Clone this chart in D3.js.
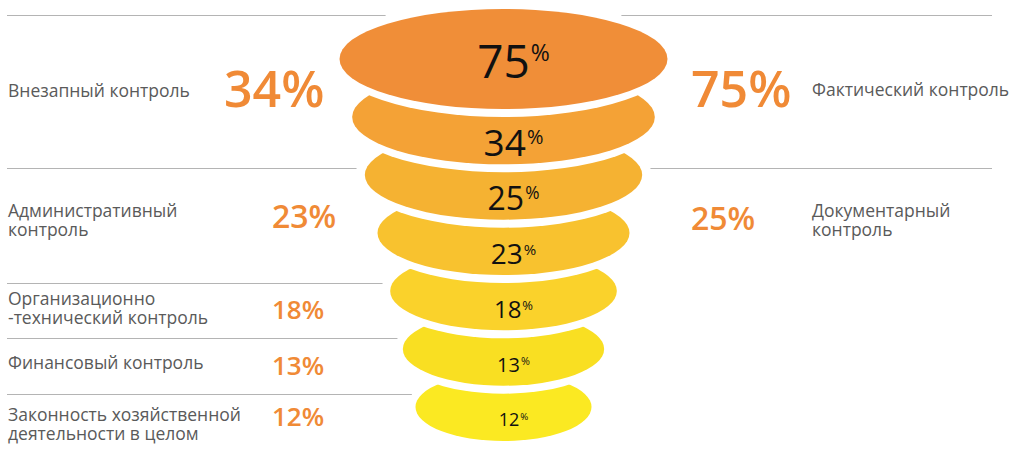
<!DOCTYPE html>
<html>
<head>
<meta charset="utf-8">
<script src="https://cdn.jsdelivr.net/npm/d3@7"></script>
<style>
  html, body { margin: 0; padding: 0; background: #fff; }
  svg text { font-family: "Open Sans", "Noto Sans", sans-serif; }
</style>
</head>
<body>
<div id="chart"></div>
<script>
// funnel levels, top to bottom
var funnelValues = [75, 34, 25, 23, 18, 13, 12];

// left column
var leftLabels = [
  ["Внезапный контроль"],
  ["Административный", "контроль"],
  ["Организационно", "-технический контроль"],
  ["Финансовый контроль"],
  ["Законность хозяйственной", "деятельности в целом"]
];
var leftValues = [34, 23, 18, 13, 12];

// right column
var rightLabels = [
  ["Фактический контроль"],
  ["Документарный", "контроль"]
];
var rightValues = [75, 25];

// ---- layout / style ----
var width = 1014, height = 451;
var cx = 503.5, gap = 8;
var levelColors = ["#f08e38", "#f4a236", "#f5b232", "#f8c22f", "#fad22b", "#f9df22", "#fbe922"];
var innerFont = [46, 37, 32, 28, 24, 20, 18];
var orange = "#f08a36", grey = "#5a5a5a", lineColor = "#b4b4b4";

var leftDividers = [15, 168, 283, 338, 394];
var rightDividers = [15, 168];
var leftLabelMid = [90.7, 220, 308.5, 363, 424];
var leftValueMid = [89, 216.6, 309.7, 365.7, 416.7];
var leftValueX = [224, 272, 272, 272, 272];
var leftValueFont = [50, 32, 26, 26, 26];
var rightLabelMid = [90, 220];
var rightValueMid = [89, 218.6];
var rightValueFont = [50, 32];

var svg = d3.select("#chart").append("svg")
  .attr("width", width)
  .attr("height", height);

var idx = d3.range(funnelValues.length);
var y = d3.scalePoint().domain(idx).range([59, 407]);
var rx = d3.scaleLinear().domain([0, idx.length - 1]).range([164, 88]);
var ry = d3.scaleLinear().domain([0, idx.length - 1]).range([50, 34]);

// half width of the funnel at a given y
function funnelHalf(yy){
  var w = 0;
  idx.forEach(function(i){
    var d = (yy - y(i)) / ry(i);
    if (Math.abs(d) < 1) w = Math.max(w, rx(i) * Math.sqrt(1 - d * d));
  });
  return w;
}

// divider lines
var lines = svg.append("g").attr("stroke", lineColor).attr("stroke-width", 1);
leftDividers.forEach(function(yy, i){
  var pad = i == 0 ? 40 : 10;
  lines.append("line")
    .attr("x1", 7).attr("x2", cx - funnelHalf(yy) - pad)
    .attr("y1", yy + 0.5).attr("y2", yy + 0.5);
});
rightDividers.forEach(function(yy, i){
  var pad = i == 0 ? 40 : 10;
  lines.append("line")
    .attr("x1", cx + funnelHalf(yy) + pad).attr("x2", 992)
    .attr("y1", yy + 0.5).attr("y2", yy + 0.5);
});

// funnel: draw bottom first, each upper level cuts the one below with a white halo
var funnel = svg.append("g");
idx.slice().reverse().forEach(function(i){
  funnel.append("ellipse")
    .attr("cx", cx).attr("cy", y(i))
    .attr("rx", rx(i) + gap).attr("ry", ry(i) + gap)
    .attr("fill", "#fff");
  funnel.append("ellipse")
    .attr("cx", cx).attr("cy", y(i))
    .attr("rx", rx(i)).attr("ry", ry(i))
    .attr("fill", levelColors[i]);
});

// numbers inside the funnel, centred in the visible part of each level
idx.forEach(function(i){
  var top = i == 0 ? y(0) - ry(0) : y(i - 1) + ry(i - 1) + gap;
  var bottom = y(i) + ry(i);
  var mid = (top + bottom) / 2 + 2.5;
  var f = innerFont[i], pf = f * (i == 0 ? 0.5 : 0.54);
  var t = svg.append("text")
    .attr("x", cx + 10)
    .attr("y", mid + f * 0.714 / 2)
    .attr("text-anchor", "middle")
    .attr("fill", "#111");
  t.append("tspan").attr("font-size", f).text(funnelValues[i]);
  t.append("tspan").attr("font-size", pf)
    .attr("dx", 1)
    .attr("dy", -(f - pf) * 0.714)
    .text("%");
});

function drawLabel(lines, x, mid){
  var t = svg.append("text")
    .attr("x", x)
    .attr("fill", grey)
    .attr("font-size", 17.5);
  var first = mid + 6 - (lines.length - 1) * 9.5;
  lines.forEach(function(s, k){
    t.append("tspan").attr("x", x).attr("y", first + k * 19).text(s);
  });
}

function drawValue(v, x, mid, f){
  svg.append("text")
    .attr("x", x)
    .attr("y", mid + f * 0.714 / 2)
    .attr("font-size", f)
    .attr("font-weight", 600)
    .attr("fill", orange)
    .text(v + "%");
}

leftLabels.forEach(function(l, i){
  drawLabel(l, 8, leftLabelMid[i]);
  drawValue(leftValues[i], leftValueX[i], leftValueMid[i], leftValueFont[i]);
});
rightLabels.forEach(function(l, i){
  drawLabel(l, 812, rightLabelMid[i]);
  drawValue(rightValues[i], 691, rightValueMid[i], rightValueFont[i]);
});
</script>
</body>
</html>
